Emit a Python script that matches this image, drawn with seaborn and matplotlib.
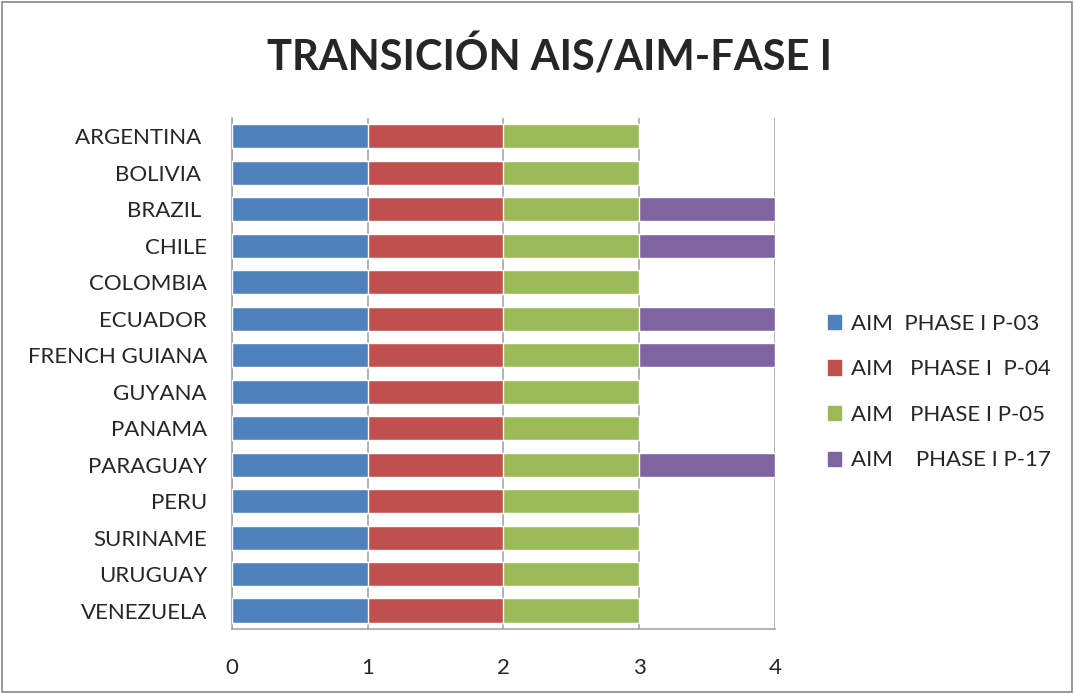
import numpy as np
import pandas as pd
import matplotlib
matplotlib.use("Agg")
import matplotlib.pyplot as plt
import matplotlib.patches as mpatches
import seaborn as sns

# datos del grafico
paises = ["ARGENTINA ", "BOLIVIA ", "BRAZIL ", "CHILE", "COLOMBIA", "ECUADOR",
          "FRENCH GUIANA", "GUYANA", "PANAMA", "PARAGUAY", "PERU", "SURINAME",
          "URUGUAY", "VENEZUELA"]
p03 = [1, 1, 1, 1, 1, 1, 1, 1, 1, 1, 1, 1, 1, 1]
p04 = [1, 1, 1, 1, 1, 1, 1, 1, 1, 1, 1, 1, 1, 1]
p05 = [1, 1, 1, 1, 1, 1, 1, 1, 1, 1, 1, 1, 1, 1]
p17 = [0, 0, 1, 1, 0, 1, 1, 0, 0, 1, 0, 0, 0, 0]
series = ["AIM  PHASE I P-03", "AIM   PHASE I  P-04", "AIM   PHASE I P-05", "AIM    PHASE I P-17"]
colores = ["#4F81BD", "#C0504D", "#9BBB59", "#8064A2"]
xticks = [0, 1, 2, 3, 4]

sns.set_theme(style="white")
plt.rcParams['font.family'] = ['Lato', 'DejaVu Sans']

df = pd.DataFrame({"pais": paises, "P03": p03, "P04": p04, "P05": p05, "P17": p17})
acum = df[["P03", "P04", "P05", "P17"]].cumsum(axis=1)

fig = plt.figure(figsize=(10.74, 6.94), dpi=100)
ax = fig.add_axes([0.216, 0.094, 0.5056, 0.736])

# barras apiladas: se dibuja el acumulado de mayor a menor
for col, c in zip(["P17", "P05", "P04", "P03"], colores[::-1]):
    sns.barplot(x=acum[col], y=df["pais"], color=c, orient="h", width=0.66,
                saturation=1, ax=ax, zorder=3)

ax.set_xlim(0, 4)
ax.set_xticks(xticks)
ax.set_xticklabels([str(t) for t in xticks], fontsize=16)
ax.tick_params(axis="x", pad=21, length=0)
ax.tick_params(axis="y", labelsize=16, length=0, pad=18)
ax.set_xlabel("")
ax.set_ylabel("")
ax.xaxis.grid(True, color="#A6A6A6", lw=1.2, zorder=0)
for s in ["top", "right"]:
    ax.spines[s].set_visible(False)
for s in ["left", "bottom"]:
    ax.spines[s].set_color("#A6A6A6")
    ax.spines[s].set_linewidth(1.2)

fig.text(0.512, 0.918, "TRANSICIÓN AIS/AIM-FASE I", ha="center", va="center",
         fontsize=30, fontweight="bold")

handles = [mpatches.Patch(color=c, label=l) for c, l in zip(colores, series)]
fig.legend(handles=handles, loc="center left", bbox_to_anchor=(0.752, 0.435),
           frameon=False, fontsize=16, handlelength=0.6, handleheight=0.6,
           handletextpad=0.45, labelspacing=1.15)

fig.patches.append(mpatches.Rectangle((0.002, 0.003), 0.996, 0.994, transform=fig.transFigure,
                                      fill=False, edgecolor="#888888", lw=1.2))

fig.savefig("out.png", dpi=100)
